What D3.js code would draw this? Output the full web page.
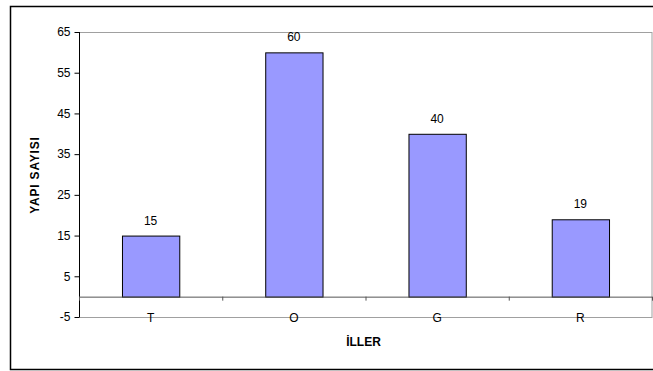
<!DOCTYPE html>
<html>
<head>
<meta charset="utf-8">
<script src="https://cdn.jsdelivr.net/npm/d3@7"></script>
<style>
  body { margin: 0; background: #fff; }
  svg { display: block; font-family: "Liberation Sans", Arial, sans-serif; }
</style>
</head>
<body>
<div id="chart"></div>
<script>
// Chart data
var categories = ["T", "O", "G", "R"];
var values = [15, 60, 40, 19];
var yTicks = [-5, 5, 15, 25, 35, 45, 55, 65];

var width = 653, height = 371;

// Plot area
var plot = { left: 79, top: 32, right: 652, bottom: 317 };

var svg = d3.select("#chart").append("svg")
  .attr("width", width)
  .attr("height", height);

// Outer chart frame (runs off the right edge)
svg.append("rect")
  .attr("x", 10.5).attr("y", 6.5)
  .attr("width", 660).attr("height", 363)
  .attr("fill", "none")
  .attr("stroke", "#000")
  .attr("stroke-width", 1.5);

// Scales
var x = d3.scaleBand()
  .domain(categories)
  .range([plot.left, plot.right])
  .paddingInner(0.6)
  .paddingOuter(0.3);

var xEdge = d3.scaleLinear()
  .domain([0, categories.length])
  .range([plot.left, plot.right]);

var y = d3.scaleLinear()
  .domain([-5, 65])
  .range([plot.bottom, plot.top]);

// Plot area border
svg.append("rect")
  .attr("x", plot.left + 0.5).attr("y", y(65) + 0.5)
  .attr("width", plot.right - plot.left - 0.5)
  .attr("height", y(-5) - y(65))
  .attr("fill", "#fff")
  .attr("stroke", "#a0a0a0")
  .attr("stroke-width", 1);

// Y axis
var yAxis = svg.append("g")
  .attr("transform", "translate(" + (plot.left + 0.5) + ",0)")
  .call(d3.axisLeft(y).tickValues(yTicks).tickSize(5).tickPadding(4).tickFormat(String));
yAxis.select(".domain").attr("stroke", "#000").attr("d", "M0," + y(65) + "V" + y(-5));
yAxis.selectAll(".tick line").attr("stroke", "#000");
yAxis.selectAll(".tick text")
  .attr("fill", "#000")
  .style("font-size", "12px")
  .style("font-family", "'Liberation Sans', Arial, sans-serif");

// Bars
svg.selectAll("rect.bar")
  .data(values)
  .enter()
  .append("rect")
  .attr("class", "bar")
  .attr("x", function (d, i) { return x(categories[i]) + 0.5; })
  .attr("y", function (d) { return y(d) + 0.5; })
  .attr("width", x.bandwidth())
  .attr("height", function (d) { return y(0) - y(d); })
  .attr("fill", "#9999ff")
  .attr("stroke", "#000")
  .attr("stroke-width", 1);

// Category axis sitting on the zero line
svg.append("line")
  .attr("x1", plot.left).attr("x2", plot.right)
  .attr("y1", y(0) + 0.5).attr("y2", y(0) + 0.5)
  .attr("stroke", "#555");

svg.selectAll("line.xtick")
  .data(d3.range(categories.length + 1))
  .enter()
  .append("line")
  .attr("class", "xtick")
  .attr("x1", function (d) { return xEdge(d) + 0.5; })
  .attr("x2", function (d) { return xEdge(d) + 0.5; })
  .attr("y1", y(0))
  .attr("y2", y(0) + 4)
  .attr("stroke", "#555");

// Category labels
svg.selectAll("text.cat")
  .data(categories)
  .enter()
  .append("text")
  .attr("class", "cat")
  .attr("x", function (d) { return x(d) + x.bandwidth() / 2; })
  .attr("y", y(-5) + 5)
  .attr("text-anchor", "middle")
  .style("font-size", "12px")
  .text(function (d) { return d; });

// Value labels
svg.selectAll("text.val")
  .data(values)
  .enter()
  .append("text")
  .attr("class", "val")
  .attr("x", function (d, i) { return x(categories[i]) + x.bandwidth() / 2; })
  .attr("y", function (d) { return y(d) - 11; })
  .attr("text-anchor", "middle")
  .style("font-size", "12px")
  .text(function (d) { return d; });

// Axis titles
svg.append("text")
  .attr("x", (plot.left + plot.right) / 2 - 2)
  .attr("y", 346)
  .attr("text-anchor", "middle")
  .style("font-size", "12px")
  .style("font-weight", "bold")
  .text("İLLER");

svg.append("text")
  .attr("transform", "translate(39,175) rotate(-90)")
  .attr("text-anchor", "middle")
  .style("font-size", "12px")
  .style("font-weight", "bold")
  .style("letter-spacing", "0.8px")
  .text("YAPI SAYISI");
</script>
</body>
</html>
